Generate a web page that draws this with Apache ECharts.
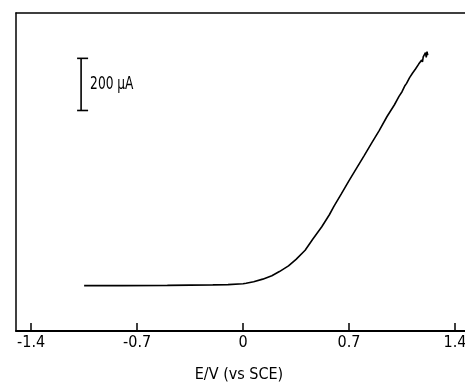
<!DOCTYPE html>
<html>
<head>
<meta charset="utf-8">
<script src="https://cdn.jsdelivr.net/npm/echarts@6/dist/echarts.min.js"></script>
<style>
html,body{margin:0;padding:0;background:#fff;}
#chart{width:465px;height:385px;}
</style>
</head>
<body>
<div id="chart"></div>
<script>
// Potential (V vs SCE) and current (µA)
const potential = [-1.05, -0.8, -0.5, -0.2, -0.1, 0, 0.02, 0.07, 0.13, 0.19, 0.24, 0.3, 0.35, 0.41, 0.46, 0.52, 0.57, 0.6, 0.65, 0.7, 0.75, 0.8, 0.85, 0.9, 0.95, 1.0,
  1.03, 1.05, 1.07, 1.08, 1.1, 1.11, 1.12, 1.13, 1.14, 1.15, 1.16, 1.17, 1.18, 1.185, 1.19, 1.2, 1.205, 1.21, 1.215, 1.22];
const current = [174, 174, 175, 177, 178, 181, 183, 189, 199, 212, 228, 250, 275, 310, 352, 400, 446, 478, 527, 577, 625, 673, 722, 770, 822, 868,
  900, 918, 942, 950, 972, 970, 990, 988, 1006, 1003, 1024, 1018, 1040, 1032, 1052, 1045, 1068, 1050, 1072, 1058];

const tickValues = [-1.4, -0.7, 0, 0.7, 1.4];
const tickLabels = ['-1.4', '-0.7', '0', '0.7', '1.4'];
const xAxisName = 'E/V (vs SCE)';

// Scale bar: 200 µA drawn at a fixed potential
const scaleBarPotential = -1.07;
const scaleBarCurrent = [846, 1046];
const scaleBarLabel = '200 µA';

const FONT = '"DejaVu Sans Condensed", "Liberation Sans Narrow", "DejaVu Sans", sans-serif';
const X_MIN = -1.5, X_MAX = 1.466;

const chart = echarts.init(document.getElementById('chart'), null, {renderer: 'canvas'});
chart.setOption({
  animation: false,
  backgroundColor: '#fff',
  grid: {left: 16, top: 13, right: 0, bottom: 54, show: false, containLabel: false, outerBoundsMode: 'none'},
  xAxis: [{
    type: 'value', min: X_MIN, max: X_MAX, position: 'bottom',
    name: xAxisName, nameLocation: 'middle', nameGap: 36,
    nameTextStyle: {fontFamily: FONT, fontSize: 16, color: '#000', padding: [0, 3, 0, 0]},
    axisLine: {show: true, onZero: false, lineStyle: {color: '#000', width: 2}},
    axisTick: {show: true, inside: true, length: 8, lineStyle: {color: '#000', width: 1.5}, customValues: tickValues},
    axisLabel: {show: true, customValues: tickValues, margin: 4, color: '#000', fontFamily: FONT, fontSize: 16, hideOverlap: false,
      formatter: function (v) { const i = tickValues.findIndex(t => Math.abs(t - v) < 1e-9); return i >= 0 ? tickLabels[i] : ''; }},
    splitLine: {show: false}
  }, {
    type: 'value', min: X_MIN, max: X_MAX, position: 'top',
    axisLine: {show: true, onZero: false, lineStyle: {color: '#000', width: 1.5}},
    axisTick: {show: false}, axisLabel: {show: false}, splitLine: {show: false}
  }],
  yAxis: {
    type: 'value', min: 0, max: 1220, position: 'left',
    axisLine: {show: true, onZero: false, lineStyle: {color: '#000', width: 1.5}},
    axisTick: {show: false}, axisLabel: {show: false}, splitLine: {show: false}
  },
  series: [
    {
      type: 'line',
      data: potential.map((v, i) => [v, current[i]]),
      showSymbol: false, symbol: 'none', smooth: false,
      lineStyle: {color: '#000', width: 1.6}
    },
    {
      type: 'custom',
      data: [[scaleBarPotential, scaleBarCurrent[0], scaleBarCurrent[1]]],
      encode: {x: 0, y: [1, 2]},
      renderItem: function (params, api) {
        const p1 = api.coord([api.value(0), api.value(1)]);
        const p2 = api.coord([api.value(0), api.value(2)]);
        const st = {stroke: '#000', lineWidth: 1.6};
        return {
          type: 'group',
          children: [
            {type: 'line', shape: {x1: p1[0], y1: p1[1], x2: p2[0], y2: p2[1]}, style: st},
            {type: 'line', shape: {x1: p1[0] - 4, y1: p1[1], x2: p1[0] + 7, y2: p1[1]}, style: st},
            {type: 'line', shape: {x1: p2[0] - 4, y1: p2[1], x2: p2[0] + 7, y2: p2[1]}, style: st},
            {type: 'text', x: p1[0] + 9, y: (p1[1] + p2[1]) / 2, scaleX: 0.8,
              style: {text: scaleBarLabel, fill: '#000', font: '17px ' + FONT, verticalAlign: 'middle', align: 'left'}}
          ]
        };
      }
    }
  ]
});
</script>
</body>
</html>
